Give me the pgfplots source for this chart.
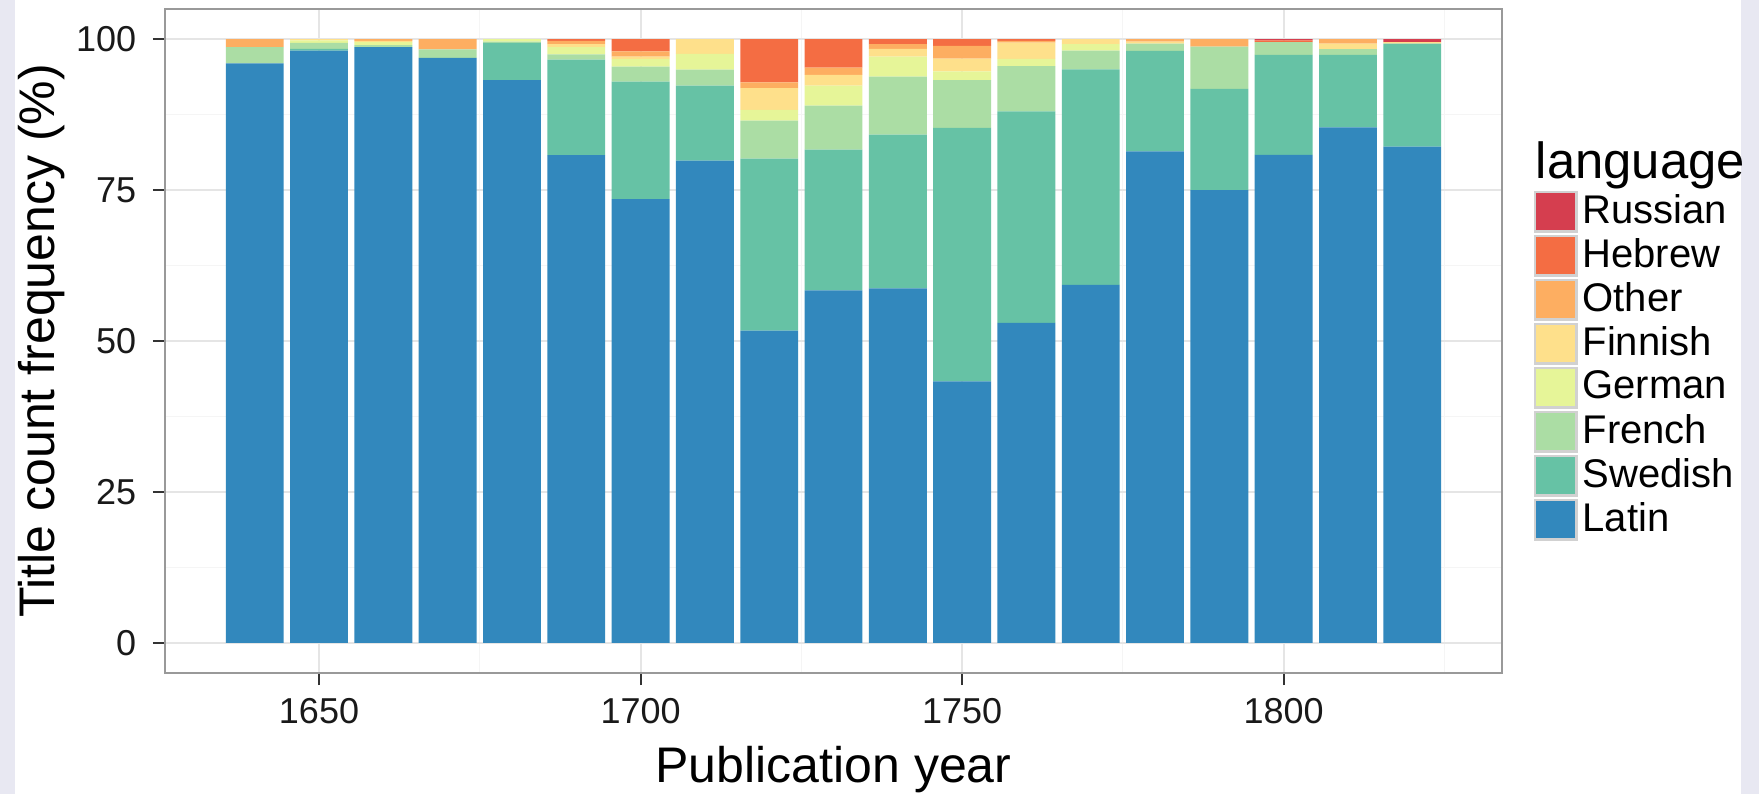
\documentclass[border=0pt]{standalone}
\usepackage{fontspec}
\setmainfont{Liberation Sans}
\usepackage{pgfplots}
\pgfplotsset{compat=1.18}
\usepackage{pgfplotstable}

\definecolor{cRussian}{HTML}{D53E4F}
\definecolor{cHebrew}{HTML}{F46D43}
\definecolor{cOther}{HTML}{FDAE61}
\definecolor{cFinnish}{HTML}{FEE08B}
\definecolor{cGerman}{HTML}{E6F598}
\definecolor{cFrench}{HTML}{ABDDA4}
\definecolor{cSwedish}{HTML}{66C2A5}
\definecolor{cLatin}{HTML}{3288BD}
\definecolor{lav}{HTML}{E8E8F2}

\pgfplotstableread{
year  Latin  Swedish French German Finnish Other Hebrew Russian
1640  96.0   0       2.7    0      0       1.3   0      0
1650  98.1   0.3     1.0    0.4    0.2     0     0      0
1660  98.7   0       0.3    0.5    0.2     0.3   0      0
1670  96.9   0       1.4    0      0       1.7   0      0
1680  93.2   6.2     0.2    0.4    0       0     0      0
1690  80.8   15.8    0.9    1.2    0.5     0.5   0.3    0
1700  73.5   19.45   2.5    1.25   0.4     0.9   2.0    0
1710  79.9   12.4    2.65   2.6    2.45    0     0      0
1720  51.7   28.5    6.3    1.8    3.6     0.95  7.15   0
1730  58.4   23.3    7.3    3.3    1.8     1.2   4.7    0
1740  58.7   25.5    9.6    3.3    1.3     0.8   0.8    0
1750  43.3   42.0    7.9    1.45   2.15    2.1   1.1    0
1760  53.0   35.05   7.5    1.2    2.7     0.25  0.3    0
1770  59.3   35.7    3.1    1.1    0.8     0     0      0
1780  81.4   16.65   1.2    0      0.35    0.4   0      0
1790  75.0   16.75   7.0    0      0       1.25  0      0
1800  80.85  16.55   2.1    0      0       0     0.3    0.2
1810  85.4   12.0    0.95   0      0.9     0.75  0      0
1820  82.2   17.05   0      0      0.25    0     0      0.5
}\langdata

\begin{document}
\begin{tikzpicture}[x=1pt,y=1pt]
\useasboundingbox (0,0) rectangle (439.75,198.5);
\fill[white] (0,0) rectangle (439.75,198.5);
\fill[lav] (0,0) rectangle (3.75,198.5);
\fill[lav] (435.25,0) rectangle (439.75,198.5);
\begin{axis}[
  at={(41.25pt,30.25pt)}, anchor=south west,
  width=334.25pt, height=166pt, scale only axis,
  xmin=1626.05, xmax=1833.95, ymin=-5, ymax=105,
  ybar stacked, bar width=9,
  xtick={1650,1700,1750,1800}, xticklabels={1650,1700,1750,1800},
  ytick={0,25,50,75,100}, yticklabels={0,25,50,75,100},
  minor xtick={1675,1725,1775,1825},
  minor ytick={12.5,37.5,62.5,87.5},
  grid=both,
  major grid style={black!10, line width=0.5pt},
  minor grid style={black!4, line width=0.3pt},
  axis line style={black!40, line width=0.5pt},
  tick align=outside, xtick pos=bottom, ytick pos=left,
  major tick length=3pt, minor tick length=0pt,
  major tick style={black!80, line width=0.5pt},
  xticklabel style={font=\fontsize{9}{9}\selectfont, text=black!90, anchor=base, inner sep=0pt, yshift=-9.5pt},
  yticklabel style={font=\fontsize{9}{9}\selectfont, text=black!90, anchor=east, inner sep=0pt, xshift=-4pt},
  xlabel={Publication year}, ylabel={Title count frequency (\%)},
  xlabel style={font=\fontsize{12.5}{12.5}\selectfont, at={(axis description cs:0.5,-0.1642)}, anchor=base},
  ylabel style={font=\fontsize{12.5}{12.5}\selectfont, at={(axis description cs:-0.08227,0.5)}, anchor=base},
  reverse legend,
  legend cell align=left,
  legend style={at={(axis description cs:1.0232,0.7274)}, anchor=north west, draw=none, fill=none,
    font=\fontsize{10}{10}\selectfont, row sep=0.5pt, inner sep=0pt,
    nodes={inner ysep=0pt},
    /tikz/every odd column/.style={column sep=-0.8pt}},
  legend image code/.code={\fill[#1] (0pt,-5.25pt) rectangle (11pt,5.25pt);
     \draw[draw=black!18, fill=none, line width=0.6pt] (0.3pt,-4.95pt) rectangle (10.7pt,4.95pt);},
]
\addplot[fill=cLatin, draw=none] table[x=year,y=Latin]{\langdata};
\addlegendentry{Latin}
\addplot[fill=cSwedish, draw=none] table[x=year,y=Swedish]{\langdata};
\addlegendentry{Swedish}
\addplot[fill=cFrench, draw=none] table[x=year,y=French]{\langdata};
\addlegendentry{French}
\addplot[fill=cGerman, draw=none] table[x=year,y=German]{\langdata};
\addlegendentry{German}
\addplot[fill=cFinnish, draw=none] table[x=year,y=Finnish]{\langdata};
\addlegendentry{Finnish}
\addplot[fill=cOther, draw=none] table[x=year,y=Other]{\langdata};
\addlegendentry{Other}
\addplot[fill=cHebrew, draw=none] table[x=year,y=Hebrew]{\langdata};
\addlegendentry{Hebrew}
\addplot[fill=cRussian, draw=none] table[x=year,y=Russian]{\langdata};
\addlegendentry{Russian}
\end{axis}
\node[anchor=base west, inner sep=0pt, font=\fontsize{12.7}{12.7}\selectfont] at (383.75,153.75) {language};
\end{tikzpicture}
\end{document}
